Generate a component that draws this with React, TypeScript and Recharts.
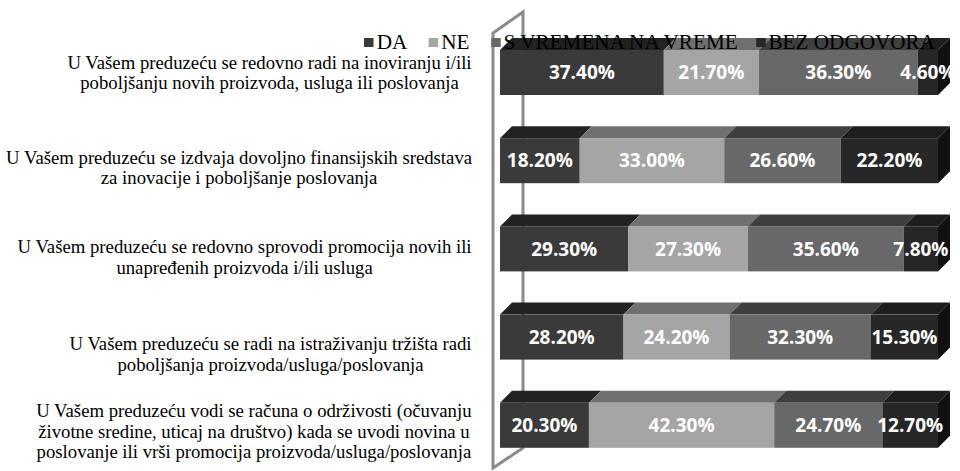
import React from 'react';
import { BarChart, Bar, XAxis, YAxis, Legend, LabelList } from 'recharts';

const categories = [
  'U Vašem preduzeću se redovno radi na inoviranju i/ili\npoboljšanju novih proizvoda, usluga ili poslovanja',
  'U Vašem preduzeću se izdvaja dovoljno finansijskih sredstava\nza inovacije i poboljšanje poslovanja',
  'U Vašem preduzeću se redovno sprovodi promocija novih ili\nunapređenih proizvoda i/ili usluga',
  'U Vašem preduzeću se radi na istraživanju tržišta radi\npoboljšanja proizvoda/usluga/poslovanja',
  'U Vašem preduzeću vodi se računa o održivosti (očuvanju\nživotne sredine, uticaj na društvo) kada se uvodi novina u\nposlovanje ili vrši promocija proizvoda/usluga/poslovanja',
];
const seriesNames = ['DA', 'NE', 'S VREMENA NA VREME', 'BEZ ODGOVORA'];
const daValues = [37.4, 18.2, 29.3, 28.2, 20.3];
const neValues = [21.7, 33.0, 27.3, 24.2, 42.3];
const svValues = [36.3, 26.6, 35.6, 32.3, 24.7];
const bezValues = [4.6, 22.2, 7.8, 15.3, 12.7];

const data = categories.map((name, i) => ({
  name,
  da: daValues[i],
  ne: neValues[i],
  sv: svValues[i],
  bez: bezValues[i],
}));

const keys = ['da', 'ne', 'sv', 'bez'];
const frontColors = ['#3a3a3a', '#a5a5a5', '#686868', '#272727'];
const topColors = ['#222222', '#707070', '#3f3f3f', '#1e1e1e'];
const SIDE_COLOR = '#111111';
const DEPTH = 12;

const SERIF = "'Liberation Serif', 'Times New Roman', Times, serif";
const LABEL_RIGHT = 472;
const LINE_H = 20.5;
// small per-row nudges so the category text sits where the original put it
const labelShift = [1, 8, 9, 18, 7];

function CategoryTick(props: any) {
  const { y, payload, index } = props;
  const lines = String(payload.value).split('\n');
  const h = lines.length * LINE_H + 6;
  const cy = y + (labelShift[index] ?? 0);
  return (
    <foreignObject x={0} y={cy - h / 2} width={LABEL_RIGHT} height={h} style={{ overflow: 'visible' }}>
      <div
        style={{
          width: LABEL_RIGHT,
          height: h,
          display: 'flex',
          justifyContent: 'flex-end',
          alignItems: 'center',
        }}
      >
        <div
          style={{
            textAlign: 'center',
            fontFamily: SERIF,
            fontSize: 18,
            lineHeight: `${LINE_H}px`,
            color: '#000',
            whiteSpace: 'nowrap',
            transform: 'scaleX(1.04)',
            transformOrigin: 'right center',
          }}
        >
          {lines.map((l, i) => (
            <div key={i}>{l}</div>
          ))}
        </div>
      </div>
    </foreignObject>
  );
}

function make3DShape(idx: number, withSide: boolean) {
  return (props: any) => {
    const { x, y, width, height } = props;
    if (width == null || height == null) return null;
    const d = DEPTH;
    return (
      <g>
        <polygon
          points={`${x},${y} ${x + d},${y - d} ${x + width + d},${y - d} ${x + width},${y}`}
          fill={topColors[idx]}
        />
        {withSide && (
          <polygon
            points={`${x + width},${y} ${x + width + d},${y - d} ${x + width + d},${y + height - d} ${x + width},${y + height}`}
            fill={SIDE_COLOR}
          />
        )}
        <rect x={x} y={y} width={width} height={height} fill={frontColors[idx]} />
      </g>
    );
  };
}

function renderLegend() {
  return (
    <div
      style={{
        display: 'flex',
        fontFamily: SERIF,
        fontSize: 20,
        lineHeight: '23px',
        color: '#000',
        whiteSpace: 'nowrap',
        transform: 'scaleX(1.06)',
        transformOrigin: 'left center',
      }}
    >
      {seriesNames.map((n, i) => (
        <span key={n} style={{ display: 'flex', alignItems: 'center', marginRight: i === 2 ? 17 : 20 }}>
          <span style={{ width: 9, height: 9, background: frontColors[i], marginRight: 3, display: 'inline-block' }} />
          {n}
        </span>
      ))}
    </div>
  );
}

const fmt = (v: any) => `${Number(v).toFixed(2)}%`;

export default function App() {
  return (
    <div style={{ position: 'absolute', left: 0, top: 0, width: 960, height: 471, background: '#fff' }}>
      <svg width={960} height={471} style={{ position: 'absolute', left: 0, top: 0 }}>
        <polygon points="493,33 523,12 523,448 493,468" fill="none" stroke="#8a8a8a" strokeWidth={3} />
      </svg>
      <div style={{ position: 'absolute', left: 0, top: 0 }}>
        <BarChart
          width={960}
          height={471}
          data={data}
          layout="vertical"
          margin={{ top: 28, right: 22, bottom: 2, left: 0 }}
          barSize={45}
        >
          <XAxis type="number" domain={[0, 100]} hide />
          <YAxis
            type="category"
            dataKey="name"
            width={500}
            axisLine={false}
            tickLine={false}
            tick={<CategoryTick />}
            interval={0}
          />
          <Legend
            content={renderLegend}
            layout="horizontal"
            verticalAlign="middle"
            align="center"
            wrapperStyle={{ top: 31, left: 364, width: 'auto' }}
          />
          {keys.map((k, i) => (
            <Bar
              key={k}
              dataKey={k}
              name={seriesNames[i]}
              stackId="a"
              fill={frontColors[i]}
              shape={make3DShape(i, i === keys.length - 1)}
              isAnimationActive={false}
            >
              <LabelList
                dataKey={k}
                position="center"
                formatter={fmt}
                fill="#fff"
                fontFamily="'Open Sans', sans-serif"
                fontWeight="bold"
                fontSize={19}
              />
            </Bar>
          ))}
        </BarChart>
      </div>
    </div>
  );
}
